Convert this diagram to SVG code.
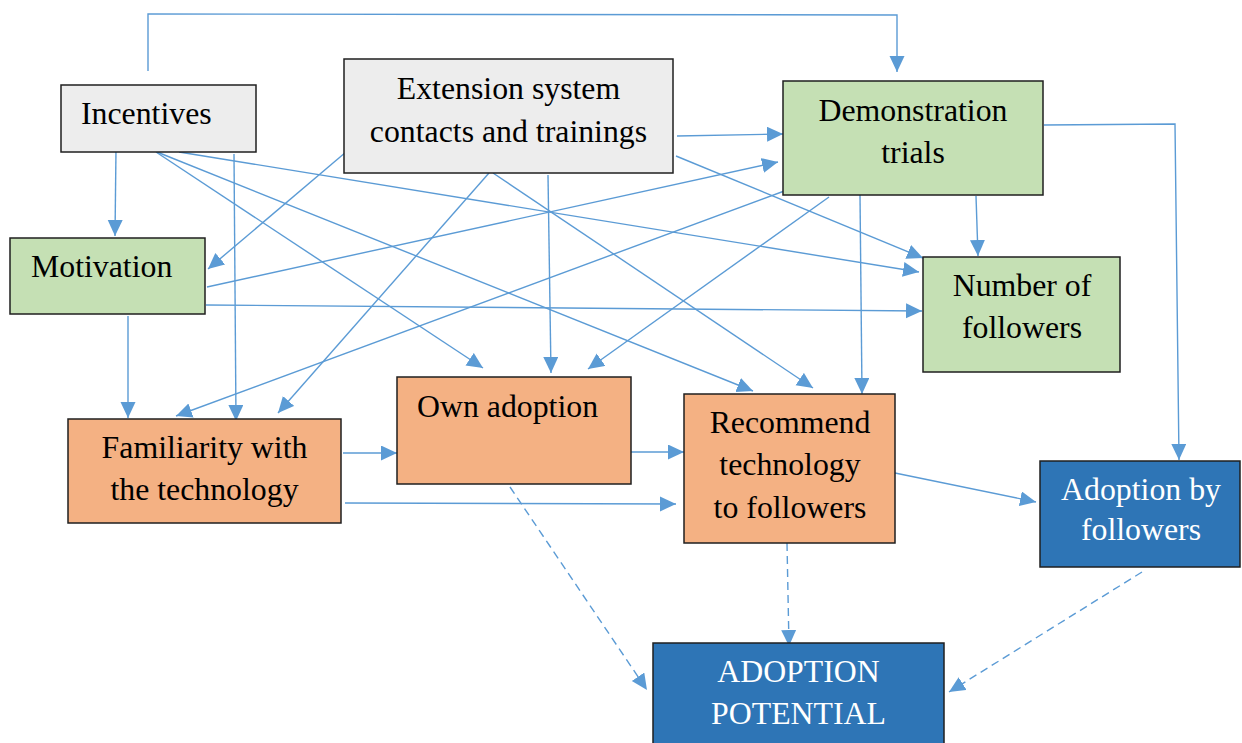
<svg xmlns="http://www.w3.org/2000/svg" width="1242" height="743" viewBox="0 0 1242 743">
<defs>
<marker id="ah" markerUnits="userSpaceOnUse" markerWidth="17" markerHeight="16" refX="16" refY="7.5" orient="auto" viewBox="0 0 17 16">
<path d="M0,0 L16,7.5 L0,15 z" fill="#5b9bd5"/>
</marker>
</defs>
<style>
.box{stroke:#1f1f1f;stroke-width:1.5}
.grey{fill:#ededed}
.green{fill:#c5e0b4}
.orange{fill:#f4b183}
.blue{fill:#2e75b6}
text{font-family:"Liberation Serif","Times New Roman",serif;font-size:31.8px;fill:#000}
.w{fill:#fff}
.c{text-anchor:middle}
.ln{fill:none;stroke:#5b9bd5;stroke-width:1.4;marker-end:url(#ah)}
.d{stroke-dasharray:8 5}
</style>
<rect width="1242" height="743" fill="#fff"/>
<g id="connectors">
<polyline class="ln" points="148,71 148,14 897,15 897,72"/>
<line class="ln" x1="116" y1="149" x2="115" y2="236"/>
<line class="ln" x1="234" y1="154" x2="236" y2="421"/>
<line class="ln" x1="156" y1="152" x2="483" y2="368"/>
<line class="ln" x1="157" y1="152" x2="753" y2="391"/>
<line class="ln" x1="179" y1="152" x2="919" y2="272"/>
<line class="ln" x1="346" y1="152" x2="208" y2="269"/>
<line class="ln" x1="677" y1="136" x2="783" y2="134"/>
<line class="ln" x1="676" y1="156" x2="923" y2="258"/>
<line class="ln" x1="489" y1="173" x2="278" y2="413"/>
<line class="ln" x1="548" y1="175" x2="551" y2="373"/>
<line class="ln" x1="493" y1="173" x2="813" y2="388"/>
<line class="ln" x1="207" y1="287" x2="778" y2="162"/>
<line class="ln" x1="206" y1="305" x2="922" y2="311"/>
<line class="ln" x1="128" y1="316" x2="128" y2="418"/>
<line class="ln" x1="787" y1="190" x2="176" y2="416"/>
<line class="ln" x1="829" y1="197" x2="588" y2="369"/>
<line class="ln" x1="860" y1="195" x2="862" y2="394"/>
<line class="ln" x1="976" y1="196" x2="978" y2="256"/>
<polyline class="ln" points="1044,125 1175,124 1179,460"/>
<line class="ln" x1="343" y1="453" x2="397" y2="453"/>
<line class="ln" x1="345" y1="503" x2="676" y2="504"/>
<line class="ln" x1="629" y1="452" x2="684" y2="452"/>
<line class="ln" x1="895" y1="473" x2="1036" y2="502"/>
<line class="ln d" x1="510" y1="487" x2="647" y2="690"/>
<line class="ln d" x1="787" y1="543" x2="789" y2="646"/>
<line class="ln d" x1="1142" y1="572" x2="949" y2="692"/>
</g>
<g id="incentives">
<rect class="box grey" x="61" y="85" width="195" height="67"/>
<text x="81" y="124">Incentives</text>
</g>
<g id="extension">
<rect class="box grey" x="344" y="59" width="329" height="114"/>
<text class="c" x="508.5" y="99">Extension system</text>
<text class="c" x="508.5" y="142">contacts and trainings</text>
</g>
<g id="demonstration">
<rect class="box green" x="783" y="81" width="260" height="114"/>
<text class="c" x="913" y="121">Demonstration</text>
<text class="c" x="913" y="163">trials</text>
</g>
<g id="motivation">
<rect class="box green" x="10" y="238" width="195" height="76"/>
<text x="31" y="277">Motivation</text>
</g>
<g id="number-of-followers">
<rect class="box green" x="923" y="257" width="197" height="115"/>
<text class="c" x="1022" y="296">Number of</text>
<text class="c" x="1022" y="338">followers</text>
</g>
<g id="familiarity">
<rect class="box orange" x="68" y="419" width="273" height="104"/>
<text class="c" x="204.5" y="458">Familiarity with</text>
<text class="c" x="204.5" y="500">the technology</text>
</g>
<g id="own-adoption">
<rect class="box orange" x="397" y="377" width="234" height="107"/>
<text x="417" y="417">Own adoption</text>
</g>
<g id="recommend">
<rect class="box orange" x="684" y="394" width="211" height="149"/>
<text class="c" x="790" y="433">Recommend</text>
<text class="c" x="790" y="475">technology</text>
<text class="c" x="790" y="518">to followers</text>
</g>
<g id="adoption-by-followers">
<rect class="box blue" x="1040" y="461" width="200" height="106"/>
<text class="c w" x="1141" y="500">Adoption by</text>
<text class="c w" x="1141" y="540">followers</text>
</g>
<g id="adoption-potential">
<rect class="box blue" x="653" y="643" width="291" height="120"/>
<text class="c w" x="798.5" y="682">ADOPTION</text>
<text class="c w" x="798.5" y="724">POTENTIAL</text>
</g>
</svg>
